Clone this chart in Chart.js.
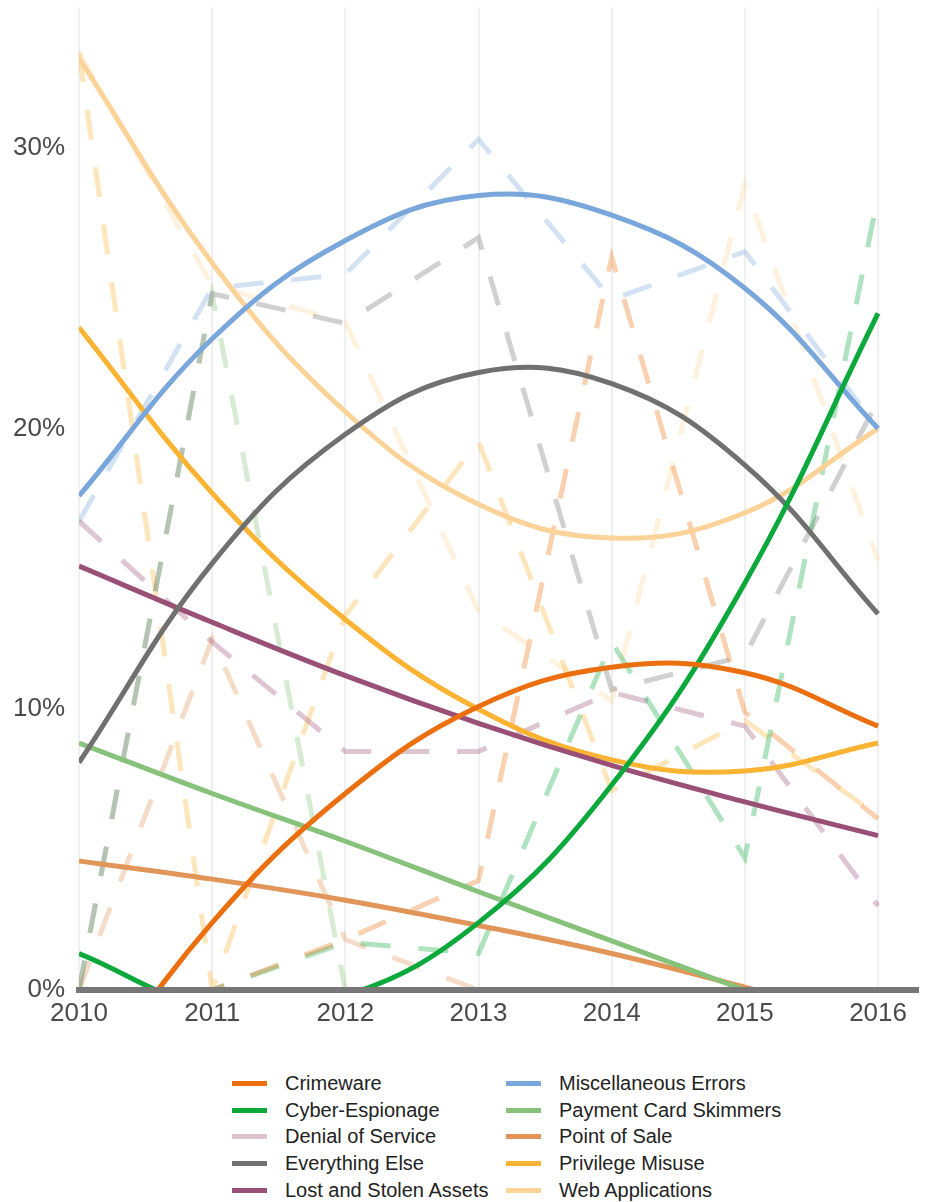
<!DOCTYPE html>
<html>
<head>
<meta charset="utf-8">
<script src="https://cdn.jsdelivr.net/npm/chart.js@4.4.1/dist/chart.umd.min.js"></script>
<style>
  html, body { margin: 0; padding: 0; background: #fff; }
  body { width: 927px; height: 1202px; position: relative; overflow: hidden; font-family: "Liberation Sans", Arial, sans-serif; }
  #wrap { position: absolute; left: 0; top: 0; width: 927px; height: 1045px; }
  #legend {
    position: absolute; left: 232px; top: 1070px;
    display: grid; grid-template-columns: 274px 280px;
    grid-template-rows: repeat(5, 26.8px); grid-auto-flow: column;
  }
  .item { display: flex; align-items: center; font-size: 20px; color: #222; white-space: nowrap; }
  .swatch { width: 35px; height: 5px; margin-right: 18px; flex: none; }
</style>
</head>
<body>
<div id="wrap"><canvas id="chart"></canvas></div>
<div id="legend"></div>
<script>
const years = [2010, 2011, 2012, 2013, 2014, 2015, 2016];
const yTicks = [0, 10, 20, 30];

const categories = [
  "Crimeware", "Cyber-Espionage", "Denial of Service", "Everything Else",
  "Lost and Stolen Assets", "Miscellaneous Errors", "Payment Card Skimmers",
  "Point of Sale", "Privilege Misuse", "Web Applications"
];
const colors = [
  "#ec6f0f", "#0ba83b", "#dcc3cf", "#707070", "#9a4f76",
  "#7aa7db", "#86c27a", "#e29558", "#fbb333", "#fbd398"
];

// share of breaches per year (dashed lines)
const crimeware      = [0, 0, 1.8, 3.9, 26.1, 9.9, 6.1];
const cyberEspionage = [0, 0, 1.7, 1.3, 12.4, 4.7, 28.3];
const denialService  = [0, 0, 0, 0, 0, 0, 0];
const everythingElse = [0, 24.8, 23.75, 26.8, 10.7, 11.9, 21.0];
const lostStolen     = [16.7, 12.4, 8.5, 8.5, 10.6, 9.4, 3.0];
const miscErrors     = [16.7, 25.0, 25.5, 30.3, 24.6, 26.3, 20.0];
const cardSkimmers   = [0, 24.8, 0, 0, 0, 0, 0];
const pointOfSale    = [0, 12.5, 1.8, 0, 0, 0, 0];
const privMisuse     = [33.4, 0, 13.35, 19.55, 7.1, 9.6, 6.2];
const webApps        = [33.4, 25.1, 23.8, 13.5, 10.3, 28.7, 15.3];

// trend curves (below 0 is hidden by the axis)
const crimewareTrend      = [-3.9, 2.4, 7.0, 10.1, 11.5, 11.3, 9.4];
const cyberEspionageTrend = [1.3, -0.6, -0.2, 2.4, 7.3, 14.5, 24.1];
const denialServiceTrend  = [0, 0, 0, 0, 0, 0, 0];
const everythingElseTrend = [8.1, 15.2, 19.8, 22.0, 21.6, 18.7, 13.4];
const lostStolenTrend     = [15.1, 13.1, 11.2, 9.5, 8.0, 6.7, 5.5];
const miscErrorsTrend     = [17.6, 23.2, 26.7, 28.3, 27.6, 25.0, 20.0];
const cardSkimmersTrend   = [8.8, 7.0, 5.3, 3.5, 1.75, 0, -1.75];
const pointOfSaleTrend    = [4.6, 3.95, 3.2, 2.3, 1.3, 0.1, -1.15];
const privMisuseTrend     = [23.6, 17.7, 13.2, 10.0, 8.2, 7.8, 8.8];
const webAppsTrend        = [33.2, 25.9, 20.6, 17.3, 16.1, 17.0, 20.0];

const rawSeries = [crimeware, cyberEspionage, denialService, everythingElse, lostStolen,
  miscErrors, cardSkimmers, pointOfSale, privMisuse, webApps];
const trendSeries = [crimewareTrend, cyberEspionageTrend, denialServiceTrend, everythingElseTrend,
  lostStolenTrend, miscErrorsTrend, cardSkimmersTrend, pointOfSaleTrend, privMisuseTrend, webAppsTrend];

function alpha(hex, a) {
  const n = parseInt(hex.slice(1), 16);
  return `rgba(${n >> 16},${(n >> 8) & 255},${n & 255},${a})`;
}
const toPoints = vals => years.map((yr, i) => ({ x: yr, y: vals[i] }));

const datasets = [];
categories.forEach((name, i) => {
  datasets.push({
    label: name,
    data: toPoints(rawSeries[i]),
    borderColor: alpha(colors[i], 0.33),
    borderWidth: 5,
    borderDash: [30, 28],
    tension: 0,
    order: 2
  });
});
categories.forEach((name, i) => {
  datasets.push({
    label: name + " trend",
    data: toPoints(trendSeries[i]),
    borderColor: colors[i],
    borderWidth: 5,
    tension: 0.4,
    order: 1
  });
});

const tickFont = { family: "'Liberation Sans', Arial, sans-serif", size: 26 };

new Chart(document.getElementById("chart"), {
  type: "line",
  data: { datasets },
  options: {
    responsive: true,
    maintainAspectRatio: false,
    animation: false,
    layout: { padding: { top: 7.5, right: 9, left: 0, bottom: 0 } },
    elements: {
      point: { radius: 0, hoverRadius: 0 },
      line: { capBezierPoints: false, fill: false }
    },
    plugins: { legend: { display: false }, tooltip: { enabled: false } },
    scales: {
      x: {
        type: "linear",
        min: 2010,
        max: 2016.3,
        afterBuildTicks: s => { s.ticks = years.map(v => ({ value: v })); },
        afterFit: s => { s.height = 55; s.paddingLeft = 0; s.paddingRight = 0; },
        grid: { color: "#efefef", lineWidth: 2, drawTicks: false },
        border: { display: true, color: "#777", width: 6, z: 1 },
        ticks: { font: tickFont, color: "#4a4a4a", padding: 8, callback: v => String(v), maxRotation: 0 }
      },
      y: {
        min: 0,
        max: 35,
        afterBuildTicks: s => { s.ticks = yTicks.map(v => ({ value: v })); },
        afterFit: s => { s.width = 79; s.paddingTop = 0; s.paddingBottom = 0; },
        grid: { display: false, drawTicks: false },
        border: { display: false },
        ticks: { font: tickFont, color: "#4a4a4a", padding: 14, callback: v => v + "%" }
      }
    }
  }
});

// legend: two columns, five rows
const legend = document.getElementById("legend");
categories.forEach((name, i) => {
  const item = document.createElement("div");
  item.className = "item";
  const sw = document.createElement("span");
  sw.className = "swatch";
  sw.style.background = colors[i];
  item.appendChild(sw);
  item.appendChild(document.createTextNode(name));
  legend.appendChild(item);
});
</script>
</body>
</html>
